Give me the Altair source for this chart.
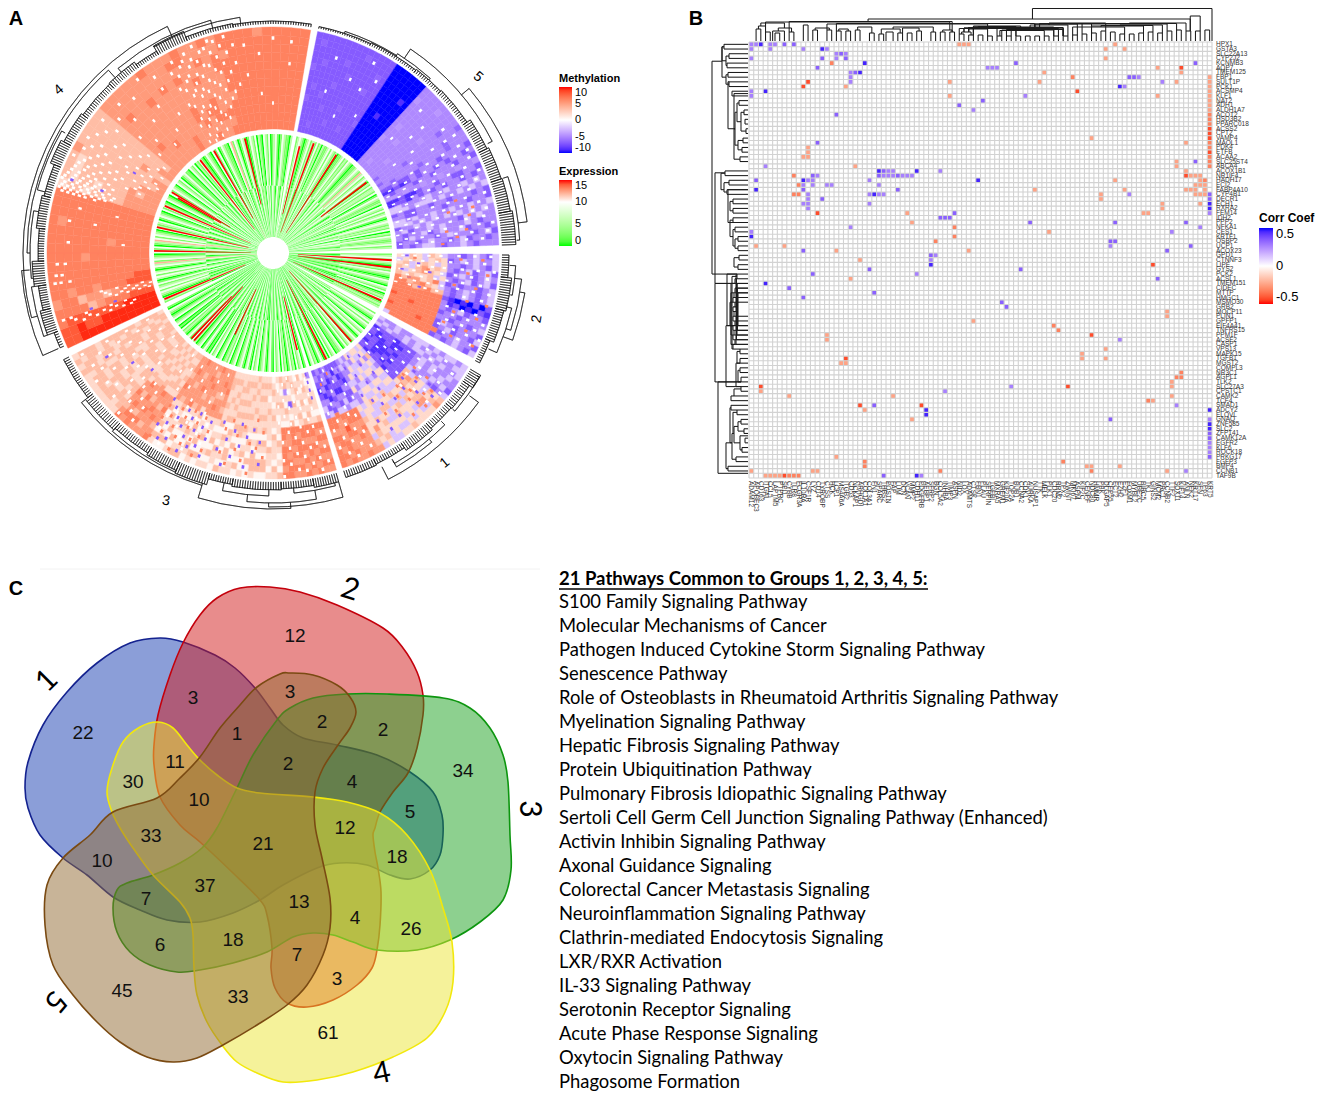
import altair as alt
import pandas as pd

alt.data_transformers.disable_max_rows()

# ---------------- values ----------------
CX, CY = 273, 253
SECTORS = {"4": (245.1, 369.6), "5": (11.4, 88.0), "2": (90.3, 117.7), "1": (120.2, 162.1), "3": (163.7, 243.0)}
METH_LEVEL = dict(R=9.5, r=8, o=6.4, p=5.2, s=3.5, t=2, w=0, l=-2.5, m=-5, n=-4.4, b=-7, c=-6.4, B=-8.8, X=-10)
METH_LEVEL_3 = {**METH_LEVEL, "l": 0.5}
EXPR_LEVEL = dict(G=0, g=2.5, h=5.5, w=9, p=12, R=15)

OUTER4 = """RRRRRRRRRRrr RRRRRRRrrRrr RRRRrrrrrrro rrrooopsoooo oooopsppsoop rrrooopoopoo rroooooooooo
oooooooooooo oooooooooooo ooooooopoooo oooooooooooo oooopooooooo oooooooooooo oooooooooopo oooooooooooo oooooooooooo oooooooooooo
ppppsssstsst ppppssstssts ppspssssssts pppsssssssts pssssssssssp ppssssssssss ssspssssssss ppssssssssss psssssssssss
pppppppppppp pppoppppoppp pppppppppppp ppoppppppppp pppppppoppp pppppppppppo ooppppppoppp pppppppppppp
pppoopppopop ppopppppppoo oppopppopppp ppoooppppopp ppoppppppppo opoppppoopp
oooopoooopoo oooooooooooo oooooooooooo oooooooooooo ooooooooooop oooooooooooo oooooooooooo oooooooooooo oooooooooooo oooooooooooo""".split()

OUTER5 = """bbbbbcbbbbcbbbbb bbbbbbbcbbbbbbcb bcbbbbbbbbbcbbbb bbbbbbcbbbbbbbbb bbbbcbbbbbbbbbbb bbbbbbbbcbbbbbbb bbcbbbbbbbbbcbbb
bbbbbbbbbbcbbbbb bbbbbcbbbbbbbbbb bbbbbbbbbbbbbbcb bbcbbbbbbbbbbbbb bbbbbbbbbcbbbbbb bbbbbbbbbbbbcbbb bbbbcbbbbbbbbbbb
XXXXXXXXXXXXXXXX XXXXXXXXXXXXXXXX XXXXXXXBXXXXXXXX XXXXXXXXXXXXXXXX XXXXXXXXXXXBXXXX XXXXXXXXXXXXXXXX
mmmmmnmmmmmmmnmm mmmmmmmmnmmmmmmm mnmmmmmmmmmmmmmm mmmmmmnmmmmmmmmm mmmmmmmmmmmmmmnm mmmnmmmmmmmmmmmm mmmmmmmmmnmmmmmm
cmmmmmmmmmmmcmmm mmmmmcmmmmmmmmmc cmmmmmmmmmmmcmmm mmcmmmmcmmmmcmmm
bbmbbmbmmmbmmmmb BBbBbmbmmbmbmmbm mbmmmbmmbmmmbmmb nnmnmmnmmnmmnmmn BBbBBbmmbmmbbmmb BbbBmbmbmbmmbmbm
llmmmnlmmlmmlmlm lllmlllmlmmlmlml bmbbmmbmmbmmmbmb mmbbmmmmbmmmbmmb llmlmmlmmlmmlmml lllmlmlmlmlmlmlm
bmmlmlmmmmblmlmm mlbmmlmlmmmlmbmm mbmmlbmlmmlbmmbm mblmmmbmlmmmbmlb bmmbmlmmbmlbmmbm bmbmllmbmmlmbmmm""".split()

OUTER2 = """tlstlstlmmbmlmbl ltstltstbmlmlmml tsltstltmmbmlmbl stlsptstmbmlbmlb sltspstlbmlmbmlm
ststtsltmbmlbmlb ospptsolbmbmmbml oospostlmbmlmbml ooospossmbmlmbml oooooooobBXBXbXb oooooooomBbXBXbB
rooooooombmlbmmb oooroooobmmbmmmm oooooooommbmmbml roooooooblmbmmmb oooooroobmlbmmbl ooooooooobmmlmmb looooooobmbmlmbl""".split()

OUTER1 = """lmmlmmlllmlmllml mlmlmlmlmlmlmmll lmlmmlmllmlmlmml
BbbbBbbbmlmlmmlm bBbbBBbbmlmlmlmm bBBbBbbbmlmmlmlb BbBBbBbblmmlmbml
bbBBBbbbslstlsts BbBBbBbbspstltsp bbBbBbbbpstssplt bBbbbBbbtpstsplt
tlslmtltltlstltt ltmtltltltslttlt tltltmtllslstlts tlmltltlstltstlt ltltlmltltslltlt tmlltltltlstlttl mltlmltlslltstll lmmtlmltttlsttst mlmmltmmltttpstl
bmbBmbmltlsttlsp bmBbmbbloopopppp bBmbBmlmooppoppo bmbbBmbloopopppp mbBbmbmloproppop bmmBbBmboppppoopo mbbmBmbloopoopop bmbBbmlmoopopooo""".split()

OUTER3 = """mlltttlsopopopop tlttstltopopopop ltstltstoopopopo stltstlsoopoopop ltstltstoopopopo tstlsttlopooopop stltbtlsooopopop tsmtlstloppopooo stltsttloopooopo
tlttstlttlstltls ltstltstlstttlst tstltsttttlsttlt
tststtstslstlssl tststtsttlstlssl ststtsttsltlssst tststtsttlstlsll tsttstststltsllt tsstststsslltlsl ttststststlslltt tstststslstlsslt tsttsttsllstltls tssttsttsltlsttl
pppoppsptltslslt ppopspppttllltlt ppppspoptltsllsl oppppsppltltslst pspoppptslstlstl ppoppsppttlstlts ppppoppstlstllts ppsppppotlstlslt opppspppstltslsl ppoppppstlstltsl pppspopptsltslst
ststststppoppspo ststtsstppspoppp tstsststoppoppsp stststsppspopop tstststsppoppsoo ststsstsopspopop tststststppoppspo
sstssttsstsstsst stsststsststsstt ststssttttsstsst ststsststststsst tsstsstststsstst sstsstststsstsst sstssttsstsstsst stsstsssssttsstt tssstsststsstsss ststsssstsstsst sstsststststssts tssstsssssstssst""".split()

# small specks of one gene in one sample: level, then "theta r r r ..."
SPECKS = {"w": """250.6 150 158 172 186 200
251.4 146 165 178 193 208
252.2 155 170 196 212 220
255 128 138 150 162
255.8 132 144 156 168
256.6 126 140 152 172
257.4 134 148 160 176
262 205 214 220
264 212 218
267 208 216
273 150 205
279 180 206
283 160 198
286.5 186 196 202 208 214 220
287.3 176 182 190 198 205 212 218 224
288.1 170 178 186 194 202 210 216 222
288.9 168 180 188 196 204 212 220
289.7 174 184 192 200 208 216 224
290.5 180 190 198 206 214 222
291.5 172 186 196 204 212 220
292.6 178 192 200 210 218
293.8 146 160 184 196 206 216
295 152 174 190 204 214
296.2 148 168 182 198 210 222
297.5 140 156 176 192 206
299 132 146 166 186 200 216
300.5 136 152 170 194 210
302 144 160 180 202 218
304 134 150 172 190 212
306 142 164 184 206
308 138 158 198 216
311 150 176 204
314 162 192 214
318 146 178 208
322 156 186 220
326 168 198 212
330.5 128 146 170 188 206
332 134 152 166 184 200 216
333.4 126 142 158 176 192 208
334.6 130 148 162 180 196 212
335.8 136 154 172 186 204 218
337 128 144 160 178 194 210
338.4 140 156 174 190 206 222
339.8 132 150 168 184 200 214
341.2 146 164 180 198 216
342.6 142 158 176 192 210 222
344 152 170 188 204 220
345.5 160 178 196 214
347 166 186 206 222
349 172 194 212
352 180 210
356 160 200
360 150 215
365 190 212
18 170 205
24 150 190
28 185 215
31 160 200
46 165 205
50 180 195
54 150 172 210
57 165 190 205 216
60 140 160 178 196 214
62 132 150 172 186 206 220
64 128 146 164 180 200 218
66 138 156 176 192 210
68 130 150 168 184 204 222
70 142 160 178 198 216
72 134 152 170 188 206
74 146 166 182 200 220
76 128 140 158 176 194 212
78 136 152 168 186 204 218
80 130 146 162 180 196 214
82 126 142 158 174 190 208 222
84 134 150 166 184 200 216
86 128 144 160 178 194 210
91 130 142 156 168 186 202 218
93 126 138 150 164 178 194 212
95 134 146 160 172 190 206 222
97 128 142 154 170 184 200 216
99 136 150 164 176 192 210
101 130 144 158 172 188 204 220
103 126 140 156 168 196 214
107 182 198 212
109 190 206 222
111 186 202 216
113 180 196 210 224
115 188 204 218
126 130 150 168
128 136 156
130 126 146 170
132 140 160
134 130 152 172
136 138 164
122 182 204
124 190 216
126 180 200
128 186 210
130 192 218
132 180 204
134 196 214
136 184 208
153 182 200 216
155 178 194 210
157 186 204 220
159 180 198 214
161 188 206
151 150 165
153 130 158
155 142 170
157 128 150
159 136 162
161 146 170
165 185 200 215
167 178 195 210 222
169 182 198 214
171 176 192 206 220
173 186 202 218
175 180 196 212
177 190 208 224
166 130 146 160
168 136 152 170
170 128 142 158
172 134 150 166
174 126 140 156 172
176 132 148 164
178 138 154 170
201 184 204
203 174 196
205 182 216
207 190 206
209 176 198
211 186 222
213 194 208
200 130 150
203 140 162
206 128 154
209 146 168
212 134 158
215 142 166
218 130 150
220 182 202 218
222 176 196 212
224 186 206 222
226 134 158 180 200
228 146 170 190 214
230 130 152 176 204
232 140 164 186 210
234 150 172 196 218
236 136 160 182 206
238 146 168 192 212
240 156 178 200
242 142 166 188 216""", "b": """253 165 190
290 182 214
300 160
165 126 134 142 150
184 190 212
186 178 200
188 186 216
190 174 196
192 182 208
194 192 218
196 176 204
200 180 198 216
202 188 208
204 176 194 212
206 184 204 220
208 178 196
210 190 214
212 182 200 218
214 176 206
226 168
232 178
238 196
130 184 204
132 192 214
134 180 200
136 188 208
140 134 156 190
142 142 172 206
144 128 160 186
146 148 178 212
148 136 168 198
91 134
94 146
97 130 158
100 138
103 150
151 126 134 142""", "o": """183 180 205
185 168 196
187 192 222
189 176 210
191 186 200
193 172 216
195 182 206
200 190 210
202 178 198 218
204 186 204
206 176 194 212
208 186 208 222
210 180 200
212 192 210
214 184 198 220
129 182 198
131 190 210
133 178 206
135 194 216
137 182 200
139 190 214
142 180 200
145 196
156 132
160 140
92 188 210 142
96 196 216 156
100 184 206 138
104 200 220
108 190 214
112 184 208
115 196 220
74 190
77 180 205
79 200
83 175 195
85 185
87 170"""}

INNER = {
    "5": ("hgwGhgghwgGhghggwhgGwhghgwGgwhghgGhwggwhGgwhgwhggGwhghwhgGgwhgwGhgwhggwGhgwhgGhwgghwGgwhgwhgGhhg",
          "ghwhgGghwghhgwghGhgghwgwhghGgghwghgwhgGgghwhgphwghwgGhgwghhgwGgwhgghGwhgwghwgGhwhghgwGhgwhgghwgh"),
    "2": ("gGghgwgGgGghggGghgGgwhgGgGhgwGgGhg", "ghwgwhgGghgwhgGgwhgGwhgwGghgwGghgh"),
    "1": ("ghgwGgwhggwGghgwgGgwhgGgwghgGhgwGgghwgGhgGwhgGgwhgGg", "gwhgGhwgwhgGwhgwhGgwhgGwhgwgGwhggGwhgwGhgGhwgGhgwhG"),
    "3": ("GghgwGghwgGgwhgGgwhGghgwGgGhgwGgwhgGhwgGgwhgGhwgGgwgGhgwGgghwGgwhgGgwhgGhwGgwhgGgwhGghgGwhgGgwGhgwGgh",
          "gGwhgwGhgwgGhgwGwhgwGgwhGgwhgGwhgwGgwhGgwhgGwhgGwghgGwhgGwhgwGgGhwgGwhgGhgwGgwhGghgwGgGwhgGwhgGghwGg"),
    "4": ("GgwhgGhgGhgwGgwhgGwhgGgwpgGhwgGgwhGghphgGhwgwGgwhgGhwgGgwhgwGghwgGwhgwGgwhgGwhgwghGhwgGgwhgwGhgGghwgGwhgpGwhgwGgghwgGwhgGhwgghgGwhgwGgwhgGhwggGhwg",
          "ghwGghwgwhgwgGhwgwhGgwhpgwhgGwhgwGghpwgwhgGwhghwGgwhgGwgwhgGwhgGwhgwhgGwhgwGghwggGwhgwGhgwhgGgwhgGwhgwGgwhggGwpgwhGgwhgGgwhgwGhgGwhgwGghwgGgwhggGh"),
}
RED_SPOKES = [(20.4, 22, 117), (32.8, 24, 117), (53, 60, 117), (93.5, 25, 119), (97, 25, 119), (113.7, 22, 118),
              (138.5, 24, 118), (153.4, 30, 119), (166, 45, 100), (205, 40, 90), (222, 45, 118), (223.6, 60, 118),
              (247, 30, 118), (271, 22, 119), (282.6, 25, 119), (293.5, 24, 118), (301, 50, 118), (321.9, 30, 118),
              (330, 40, 118), (346.2, 50, 118), (14, 40, 110), (300, 60, 110)]

COMBS = [(246,250,233),(250,256,240),(256,262,237),(262,268,241),(268,276,235),(276,284,238),(284,292,236),(292,298,240),
         (298,306,237),(306,316,235),(316,324,236),(324,330,233),(330,338,239),(338,350,233),(350,369.5,232),
         (11.5,25,231),(25,38,232),(38,46,233),(46,56,234),(56,64,238),(64,72,240),(72,80,241),(80,88,243),
         (90.5,96,236),(96,104,240),(104,112,238),(112,118,234),
         (120.5,124,241),(124,131,237),(131,138,236),(138,146,238),(146,154,235),(154,162,236),
         (164,170,238),(170,178,236),(178,190,237),(190,196,235),(196,204,241),(204,212,238),(212,222,236),(222,232,238),(232,243,235)]
TREE = [(18,32,233,231,232),(32,42,235,232,233),(34,63,246,235,241),(72,87,247,242,244),(50,83,256,246,247),
        (93,100,243,237,241),(103,114,245,239,236),(96,108,250,243,245),(99,110,255,250,245),
        (121,131,241,238,238),(135,150,243,238,238),(126,153,254,243,240),(140,150,247,243,240),
        (165,175,241,238,236),(181,192,243,237,235),(170,186,250,241,243),(197,232,243,241,238),(204,222,240,238,236),(176,197,256,250,243),(164,181,254,238,250),
        (250,262,244,240,241),(264,280,243,241,238),(285,300,244,236,240),(255,335,250,244,239),(270,318,246,243,236),(320,345,241,236,233),(330,352,238,239,232),(246,266,252,235,244)]

A_LABELS = [("4", 59, 90, -40), ("5", 478, 77, 40), ("2", 537, 319, -80), ("1", 445, 463, -40), ("3", 166, 501, 10)]

CELLS = """0:0a 1a 2c 4a 5a 7b 9b 44A 45A 46A 77A
1:0a 4a 11a 15c 16a 75A 79A
2:18a 19b 20a
3:0a 15b 18a 20b 75A
4:17B 24c 56b 94b
5:14b 50a 51a 52a 86A 91C
6:21a 22b 23c 62A 91A
7:21a 68B 80b 81b 82a 97A
8:21a 12C 42A 61A 87a 90A 97A
9:11C 20A 78c 79a 97A
10:0a 3c 69C 97A
11:0a 42A 58a 86A 97A
12:49b 97A
13:44b 97A
14:47a 97A
15:18b 97B
16:97B
17:97B
18:97C
19:97C
20:72A 97C
21:92A 14b 97B
22:12A 97B
23:12A 97C
24:11A 12A 97B
25:90A 94b 97B
26:3a 22A 90A 97B
27:27c 28b 29a 30a 35c 40a 92A
28:9B 13b 14a 27b 28a 29a 30a 31b 32a 33a 34a 92C 93A 94A 95A
29:1b 11c 12a 13a 25a 48c 77A 95A 96B
30:10B 11a 13a 16a 17a 27a 94A 95A 96A
31:1c 11b 31b 60A 79A 92A 93A 94A 96A
32:9B 10B 12a 25a 26c 27a 28a 74A 80a 94A 95A 96A 97b
33:12a 15b 74A 97b
34:11a 12a 25a 87A 95A 97c
35:12a 87A 97c
36:14C 33A 43b 83A 84A 97a
37:40b 41b 42b
38:34A 59b 77b 92b
39:21a 43B 95a
40:0a 63A 89a
41:0c 43B
42:39B 76b 77b
43:1A 7A 76a 93b
44:11b 18A 46A 88b
45:38b 39a
46:23A 38a
47:38c 85C
48:25b 57b
49:13b 35a
50:21A 86b
51:3c
52:8b
53:26b
54:11b
55:53b
56:54b
57:88A
58:88A
59:47A
60:64B
61:65B
62:16A 72C
63:16A 78a
65:75A
66:70A
67:20C 70A 75A
68:19A 20A
70:91B
71:90B 91B
72:89A
73:2C 55a 67C 89A
74:2A 41a
75:8A 30A 89A
76:84B 85A
77:23C 26b 36C 90a
78:24A 37c 97c
79:37c
80:34A 76b 97a
81:97c
82:97c
83:97b
84:97b
85:97a
86:97a
87:97a
88:18A 97b
89:24B 66B
90:24B 71A 72A 78A
91:0A 13A 14A 40B 72B 88A 92a
92:3A 4A 5A 6A 7C 8B 9B 10B 28b 35c 36a""".splitlines()
STRENGTH = dict(a=0.27, b=0.34, c=0.46, A=-0.24, B=-0.32, C=-0.43)

ROW_GENES = ["HPX1","GSTA3","SLC22A13","CYP2J2","KCNMB3","AQP7","TMEM125","FBP1","SULT1P","PCK1","ACSMP4","KLF1","NAT2","ADH1","ALDH1A7","ACOT2","HSD3B2","PPARC018","ACSS2","CPT2","VAMP4","MAOL1","PDK4","ETFB","ACAA2","SLC25ST4","ABCA4","ACOX1B1","NR1IF4","HADH17","ECI2","FABP4A10","CYP4B1","DECR1","ECH1","RXRA2","FEM14","IDH2","PPP2","NFKA1","CES1","KRTF1","OSBP2","UCP1","ACOX23","GPD1","CTNNF3","LIPE","GYS2","PCK2","ACSL1","TMEM151","CIDEC","MTTP","HMGC1","MSMO30","GRB2","MOCP11","PLIN1","GPFP1","EIF4A41","TNFRS15","PPM1F","ACSF2","CASP1","VPS13","MAPK15","TGFB1","MGST2","COMPL3","NR3C1","AGPL1","TLK2","SLC27A3","CPSTC1","CAMK2","TCF4","SMAD1","ADCY2","ELOVL","GNAQ","ZNF585","SLC2","ZFP141","CAMK12A","EGFR2","KLF6","ROCK18","PRKG17","FGFP3","BMP4","CCNB1","TAF9B"]
COL_GENES = ["ADAM12","APOBEC3","CD163","ITGAL","CCL5","LAPTM5","PTPRC","SPI1","CYBB","TLR8","FCGR3A","IL10RA","CSF1R","LYZ","CD14","TYROBP","CTSS","HCK","LCP1","MS4A6A","ITGB2","CD53","NCKAP1","ARHGDI","COL1A1","COL3A1","FN1","SPARC","THBS2","POSTN","FAP","LUM","DCN","VCAN","MMP2","CDH11","PDGFRB","AEBP1","SFRP2","BGN","COL5A2","INHBA","TIMP3","ASPN","NID2","LOX","ADAMTS","CTSK","FBN1","PLAU","SERPIN","TGFBI","MXRA5","GREM1","KIF20A","TOP2A","BUB1","CCNA2","CDK1","AURKA","NUSAP1","TTK","MELK","PLK1","CDC20","RRM2","TPX2","ZWINT","MKI67","ASPM","KIF2C","CENPF","NDC80","HMMR","PBK","DLGAP5","CEP55","ECT2","EZH2","E2F1","FOXM1","MYBL2","UBE2C","BIRC5","TK1","GINS2","MCM2","PRC1","CCNB2","TTF2","SOX11","KIF14","ANLN","NEK2","KRT17","SFN","TP63","KRT5"]
assert len(ROW_GENES) == 93 and len(COL_GENES) == 98

TOP_PAIRS = [(1,2,12),(3,4,9),(5,6,8),(4.5,7,10),(8,9,9),(11,12,16),(13,14,11),(16,17,11),(18,19,10),(20,21,10),(22,23,11),(25,26,8),(27,28,7),
             (28.5,30,9),(31,32,8),(33,34,8),(35,36,10),(38,39,9),(40,41,9),(42,43,9),(44,45,7),(46,47,6),(48,49,6),(50,51,5),(52,53,5),(54,55,5),
             (56,57,5),(58,59,5),(60,61,5),(62,63,5),(64,65,5),(66,67,5),(68,69,6),(70,71,7),(72,73,8),(74,75,10),(76,77,9),(78,79,7),(80,81,7),(82,83,8),
             (84,85,9),(86,87,8),(88,89,10),(90,91,11),(92,93,10),(94,95,10),(96,97,11)]
TOP_HIGH = [(1.5,3,15),(5.7,8.5,13),(2,7,18),(13.5,16.5,13),(18.5,20.5,12),(22.5,25.5,14),(27.5,31.5,12),(32,35.5,13),(30,38.5,14),(40.5,42.5,11),
            (44.5,46.5,9),(46,50,12),(45,52,13),(46,53,13.5),(47,56,14),(48,56,14.5),(47,57,15),(44,58,12.5),(45,60,13),(46,62,13.5),(47,64,14),(52.6,62,10.5),(53,64,11),(54,66,11.5),(55,66,12),
            (56,65,12.5),(57,66,13),(58,66,13.5),(59,67,16),(60,69,17),(61,72,17.5),(63,75,18),(68,79,14),(72,83,15),(74,85,15.5),(78,87,16),(60,88,17),
            (70,90,17.5),(80,92,18),(16,50,17),(18,60,17.5),(3,42,19),(8,42.5,19.5),(24.7,92.9,22),(92.9,95,25),(59.5,97.5,32.5)]
LEFT_BR = [(0,1,724),(2,3,729),(4,5,727),(2.5,4.5,726),(0.5,3.5,722),(6,7,728),(8,9,729),(6.5,8.5,726),(10,11,732),(12,13,739),(14,15,744),(16,17,745),
           (18,19,746),(14.5,18.5,741),(12.5,16.5,737),(20,21,743),(22,23,742),(20.5,22.5,738),(24,25,740),(14.5,21.5,735),(10.5,18,734),(18,24.5,734),(8,18,728),(0.5,7,722),(3.6,49,712),
           (27,28,725),(29,30,729),(31,32,727),(29.5,31.5,724),(33,34,733),(35,36,733),(33.5,35.5,730),(37,38,733),(39,40,735),(41,42,738),(43,44,738),(45,46,739),(47,48,738),
           (41.5,43.5,735),(45.5,47.5,734),(39.5,43,733),(37.5,41,730),(27.5,31,721),(31,38,728),(27.4,51,715),
           (49,50,737),(50,51,735),(51,52,737),(52,53,735),(53,54,734),(54,55,733),(55,56,735),(56,57,733),(57,58,734),(58,59,733),(59,60,735),(60,61,733),(61,62,734),(62,63,733),(63,64,735),(64,65,733),
           (49.5,65,732),(51,64,731),(53,62,731),(55,60,730),(49.2,64,736),(50,63,736.5),(51,62,737),(52,61,737.5),(53,60,738),(49,60,727),(65,66,740),(67,68,740),(69,70,740),(71,72,741),(73,74,741),(65.5,68,737),(69.5,72,738),(73.5,75,734),(68,73,736),(60,73,726),(51,72,715),(75,76,731),(72,91.5,718),
           (77,78,731),(78,79,737),(80,81,741),(82,83,744),(84,85,745),(86,87,742),(88,89,736),(90,91,728),(80.5,82.5,738),(83.5,86.5,740),(81.5,85,734),(78.5,83,733),(83,88.5,732),(77.5,85,730),(85,90.5,726)]

LETTERS = [("A", 16, 19), ("B", 696, 19), ("C", 16, 589)]

SET_NAMES = ["1", "2", "3", "4", "5"]
VENN_FILL = ["#173db1", "#d11919", "#1ba11f", "#ebe535", "#916931"]
VENN_EDGE = ["#14228f", "#c4000c", "#0d960f", "#f2e80c", "#7a4a12"]
VENN_X = [
 [160,183,215,235,255,270,283,303,337,377,410,433,442,443,440,430,410,390,367,340,317,283,260,233,200,167,140,113,87,63,40,28,25,28,43,67,97,130],
 [183,200,217,240,270,300,337,383,403,417,423,423,417,408,393,380,375,373,375,378,381,380,377,372,357,333,307,287,275,271,272,267,260,233,200,180,160,154,154,158,170],
 [290,313,347,387,443,470,490,503,508,510,511,503,480,450,417,377,353,333,313,293,267,233,200,177,150,130,117,113,117,127,153,180,202,217,237,253,277],
 [158,173,187,200,217,237,260,313,347,380,407,430,443,452,453,445,427,393,353,317,283,257,237,222,207,197,194,193,190,180,153,133,120,112,107,112,123,140],
 [290,313,337,350,356,350,338,323,315,315,322,330,330,323,307,287,257,223,197,173,147,120,97,73,53,45,47,63,90,113,157,180,200,220,240,257,280],
]
VENN_Y = [
 [638,642,655,668,688,708,725,738,745,755,772,792,815,835,855,870,879,875,865,863,868,885,900,913,922,920,910,897,875,858,835,808,788,762,725,692,663,643],
 [643,615,598,588,587,592,605,628,648,672,695,715,748,773,792,812,828,835,852,868,892,925,950,968,985,1000,1007,1003,988,968,948,915,900,873,842,825,797,765,745,715,675],
 [708,698,694,694,698,708,728,755,782,835,870,900,922,940,950,950,942,935,933,937,952,963,970,972,965,952,932,908,890,883,875,863,848,828,788,755,720],
 [722,728,745,760,775,788,793,797,802,813,835,870,908,942,982,1012,1038,1057,1072,1080,1082,1073,1062,1045,1022,995,968,935,918,902,875,848,828,812,792,768,742,727],
 [673,675,685,697,712,728,745,768,792,825,858,898,928,955,985,1005,1025,1045,1058,1062,1057,1042,1022,995,965,925,885,858,835,812,798,778,757,728,705,687,674],
]
VENN_NUMBERS = [(22,83,733),(12,295,636),(3,193,698),(3,290,692),(2,322,722),(2,383,730),(1,237,734),(11,175,762),(30,133,782),(10,199,800),(2,288,764),
                (4,352,782),(5,410,812),(34,463,771),(33,151,836),(21,263,844),(12,345,828),(18,397,857),(10,102,861),(37,205,886),(13,299,902),(4,355,918),
                (26,411,929),(7,146,899),(6,160,945),(18,233,940),(7,297,955),(3,337,979),(45,122,991),(33,238,997),(61,328,1033)]
VENN_NAMES = [("1", 47, 681, -45), ("2", 350, 590, 18), ("3", 529, 809, 90), ("4", 382, 1074, -12), ("5", 55, 1001, 130)]

PATHWAY_TITLE = "21 Pathways Common to Groups 1, 2, 3, 4, 5:"
PATHWAYS = ["S100 Family Signaling Pathway","Molecular Mechanisms of Cancer","Pathogen Induced Cytokine Storm Signaling Pathway","Senescence Pathway",
 "Role of Osteoblasts in Rheumatoid Arthritis Signaling Pathway","Myelination Signaling Pathway","Hepatic Fibrosis Signaling Pathway","Protein Ubiquitination Pathway",
 "Pulmonary Fibrosis Idiopathic Signaling Pathway","Sertoli Cell Germ Cell Junction Signaling Pathway (Enhanced)","Activin Inhibin Signaling Pathway","Axonal Guidance Signaling",
 "Colorectal Cancer Metastasis Signaling","Neuroinflammation Signaling Pathway","Clathrin-mediated Endocytosis Signaling","LXR/RXR Activation","IL-33 Signaling Pathway",
 "Serotonin Receptor Signaling","Acute Phase Response Signaling","Oxytocin Signaling Pathway","Phagosome Formation"]

# ---------------- scales ----------------
W, H = 1309, 1087
PXX = alt.Scale(domain=[0, 1325], range=[-8, 1317])
PXY = alt.Scale(domain=[0, 1095], range=[-8, 1087])
BX = alt.Scale(domain=[0, 98], range=[741, 1204])
BY = alt.Scale(domain=[0, 93], range=[34, 470])
THETA = alt.Scale(domain=[0, 360], range=[0, 6.283185307])
RAD = alt.Scale(type="linear", domain=[0, 300], range=[0, 300])
METH = alt.Scale(domain=[-10, 0, 10], range=["#0000ff", "#ffffff", "#ff0000"], interpolate="lab")
EXPR = alt.Scale(domain=[0, 10, 15], range=["#00ff00", "#ffffff", "#ff0000"], interpolate="lab")
CORR = alt.Scale(domain=[-0.5, 0, 0.5], range=["#ff0000", "#ffffff", "#0000ff"], interpolate="lab")
SANS = "Liberation Sans"


def xq(f="x", s=PXX):
    return alt.X(f"{f}:Q", scale=s, axis=None)


def yq(f="y", s=PXY):
    return alt.Y(f"{f}:Q", scale=s, axis=None)


def legend(title, x, y, length, thick, values, size=11, tsize=11):
    return alt.Legend(title=title, type="gradient", orient="none", legendX=x - 8, legendY=y - 8, direction="vertical", gradientLength=length,
                      gradientThickness=thick, values=values, labelOverlap=False, titleFont=SANS, titleFontSize=tsize,
                      titleFontWeight="bold", titleColor="black", labelFont=SANS, labelFontSize=size, labelColor="black",
                      titlePadding=3, labelOffset=3, gradientStrokeWidth=0, labelExpr="toString(datum.value)")


# ---------------- panel A ----------------
def sector_cells(key, rows, r0, r1, levels):
    t0, t1 = SECTORS[key]
    dt = (t1 - t0) / len(rows)
    out = []
    for i, row in enumerate(rows):
        dr = (r1 - r0) / len(row)
        for j, ch in enumerate(row):
            out.append(dict(t0=t0 + i * dt, t1=t0 + (i + 1) * dt, r0=r0 + j * dr, r1=r0 + (j + 1) * dr, v=levels[ch], x=CX, y=CY))
    return out


outer = []
for k, rows, lev in zip("45213", [OUTER4, OUTER5, OUTER2, OUTER1, OUTER3], [METH_LEVEL] * 4 + [METH_LEVEL_3]):
    outer += sector_cells(k, rows, 124, 226, lev)
speck_cells = []
for level, block in SPECKS.items():
    for line in block.splitlines():
        nums_ = [float(n) for n in line.split()]
        for r in nums_[1:]:
            speck_cells.append(dict(t0=nums_[0] - 0.36, t1=nums_[0] + 0.36, r0=r - 1.7, r1=r + 1.7, v=METH_LEVEL[level], x=CX, y=CY))
inner = []
for k, (a, b) in INNER.items():
    inner += sector_cells(k, [p + q for p, q in zip(a, b)], 16, 119, EXPR_LEVEL)
for th, r0, r1 in RED_SPOKES:
    inner.append(dict(t0=th - 0.45, t1=th + 0.45, r0=r0, r1=r1, v=15, x=CX, y=CY))


def polar(**kw):
    return dict(x=xq(), y=yq(), theta=alt.Theta("t0:Q", scale=THETA), theta2="t1:Q",
                radius=alt.Radius("r1:Q", scale=RAD), radius2="r0:Q", **kw)


arcs_seam = alt.Chart(pd.DataFrame(outer)).mark_arc(filled=False, strokeWidth=0.4).encode(
    **polar(stroke=alt.Stroke("v:Q", scale=METH, legend=None)))
arcs_outer = alt.Chart(pd.DataFrame(outer)).mark_arc().encode(
    **polar(color=alt.Color("v:Q", scale=METH, legend=legend("Methylation", 559, 73, 66, 13, [10, 5, 0, -5, -10]))))
arcs_speck = alt.Chart(pd.DataFrame(speck_cells)).mark_arc().encode(
    **polar(color=alt.Color("v:Q", scale=METH, legend=None)))
arcs_inner = alt.Chart(pd.DataFrame(inner)).mark_arc().encode(
    **polar(color=alt.Color("v:Q", scale=EXPR, legend=legend("Expression", 559, 166, 66, 13, [15, 10, 5, 0]))))

tree = []
for t0, t1, rt in COMBS:
    n = max(2, int(round((t1 - t0) / 0.62)))
    for i in range(n + 1):
        th = t0 + (t1 - t0) * i / n
        tree.append(dict(t0=th, t1=th, r0=229, r1=rt, x=CX, y=CY))
    tree.append(dict(t0=t0, t1=t1, r0=rt, r1=rt, x=CX, y=CY))
for t0, t1, r, c0, c1 in TREE:
    tree.append(dict(t0=t0, t1=t1, r0=r, r1=r, x=CX, y=CY))
    tree.append(dict(t0=t0, t1=t0, r0=c0, r1=r, x=CX, y=CY))
    tree.append(dict(t0=t1, t1=t1, r0=c1, r1=r, x=CX, y=CY))
arcs_tree = alt.Chart(pd.DataFrame(tree)).mark_arc(filled=False, stroke="#111111", strokeWidth=0.6).encode(**polar())


def rotated(items, size, font=SANS, weight="normal"):
    charts = []
    for s, x, y, a in items:
        d = pd.DataFrame([dict(t=s, x=x, y=y)])
        charts.append(alt.Chart(d).mark_text(fontSize=size, font=font, fontWeight=weight, angle=(a % 360), color="black",
                                             align="center", baseline="middle").encode(x=xq(), y=yq(), text="t:N"))
    return charts


# ---------------- panel B ----------------
cells = []
for line in CELLS:
    row, rest = line.split(":")
    for tok in rest.split():
        c = int(tok[:-1])
        cells.append(dict(r=int(row), r2=int(row) + 1, c=c, c2=c + 1, v=STRENGTH[tok[-1]]))
cells_df = pd.DataFrame(cells)
rects = alt.Chart(cells_df).mark_rect().encode(
    x=xq("c", BX), x2="c2:Q", y=yq("r", BY), y2="r2:Q",
    color=alt.Color("v:Q", scale=CORR, legend=legend("Corr Coef", 1259, 213, 76, 14, [0.5, 0, -0.5], size=13, tsize=12)),
)
vgrid = alt.Chart(pd.DataFrame({"c": list(range(99))})).mark_rule(color="#d2d2d2", strokeWidth=1.1).encode(
    x=xq("c", BX), y=alt.value(34), y2=alt.value(470))
hgrid = alt.Chart(pd.DataFrame({"r": list(range(94))})).mark_rule(color="#d2d2d2", strokeWidth=1.1).encode(
    y=yq("r", BY), x=alt.value(741), x2=alt.value(1204))

row_txt = alt.Chart(pd.DataFrame({"g": ROW_GENES, "r": [i + 0.5 for i in range(93)], "x": 1216})).mark_text(
    fontSize=6.5, font=SANS, align="left", baseline="middle", color="#333333").encode(x=xq(), y=yq("r", BY), text="g:N")
col_txt = alt.Chart(pd.DataFrame({"g": COL_GENES, "c": [i + 0.5 for i in range(98)], "y": 481})).mark_text(
    fontSize=6.5, font=SANS, align="left", baseline="middle", angle=90, color="#333333").encode(x=xq("c", BX), y=yq(), text="g:N")

top_segs, left_segs = [], []
BR = TOP_PAIRS + TOP_HIGH


def child_h(e, h):
    best = 0.0
    for a, b, hh in BR:
        if hh < h and abs((a + b) / 2 - e) < 0.8:
            best = max(best, hh)
    return best


for a, b, h in BR:
    top_segs.append(dict(a=a + 0.5, b=b + 0.5, p=h, q=h))
    top_segs.append(dict(a=a + 0.5, b=a + 0.5, p=h, q=child_h(a, h)))
    top_segs.append(dict(a=b + 0.5, b=b + 0.5, p=h, q=child_h(b, h)))
top_df = pd.DataFrame(top_segs)
top_df["p"] = 41 - top_df["p"]
top_df["q"] = 41 - top_df["q"]
top_tree = alt.Chart(top_df).mark_rule(color="#1c1c1c", strokeWidth=1.05).encode(
    x=xq("a", BX), x2="b:Q", y=yq("p"), y2="q:Q")


def child_x(e, x):
    best = 748
    for a, b, xx in LEFT_BR:
        if xx > x and abs((a + b) / 2 - e) < 0.8:
            best = min(best, xx)
    return best


for a, b, x in LEFT_BR:
    left_segs.append(dict(a=a + 0.5, b=b + 0.5, p=x, q=x))
    left_segs.append(dict(a=a + 0.5, b=a + 0.5, p=x, q=child_x(a, x)))
    left_segs.append(dict(a=b + 0.5, b=b + 0.5, p=x, q=child_x(b, x)))
left_tree = alt.Chart(pd.DataFrame(left_segs)).mark_rule(color="#1c1c1c", strokeWidth=1.05).encode(
    y=yq("a", BY), y2="b:Q", x=xq("p"), x2="q:Q")

# ---------------- panel C ----------------
venn = []
for name, fill, edge, xs, ys in zip(SET_NAMES, VENN_FILL, VENN_EDGE, VENN_X, VENN_Y):
    d = pd.DataFrame({"x": xs, "y": ys, "i": list(range(len(xs)))})
    venn.append(alt.Chart(d).mark_line(interpolate="cardinal-closed", fill=fill, fillOpacity=0.5, stroke=edge, strokeWidth=1.6).encode(
        x=xq(), y=yq(), order="i:Q"))
nums = alt.Chart(pd.DataFrame(VENN_NUMBERS, columns=["t", "x", "y"])).mark_text(
    fontSize=19, font=SANS, color="#111111", align="center", baseline="middle").encode(x=xq(), y=yq(), text="t:N")

head = alt.Chart(pd.DataFrame([dict(t=PATHWAY_TITLE, x=559, y=579)])).mark_text(
    fontSize=18.5, font="Lato", fontWeight="bold", align="left", baseline="middle", color="black").encode(x=xq(), y=yq(), text="t:N")
under = alt.Chart(pd.DataFrame([dict(x=559, x2=928, y=589)])).mark_rule(color="black", strokeWidth=1.3).encode(x=xq(), x2="x2:Q", y=yq())
faint = alt.Chart(pd.DataFrame([dict(x=40, x2=540, y=569)])).mark_rule(color="#f2f2f2", strokeWidth=1).encode(x=xq(), x2="x2:Q", y=yq())
paths = alt.Chart(pd.DataFrame({"t": PATHWAYS, "y": [602 + 23.98 * i for i in range(len(PATHWAYS))], "x": 559})).mark_text(
    fontSize=18.4, font="Lato", align="left", baseline="middle", color="black").encode(x=xq(), y=yq(), text="t:N")
letters = alt.Chart(pd.DataFrame(LETTERS, columns=["t", "x", "y"])).mark_text(
    fontSize=20, font=SANS, fontWeight="bold", align="center", baseline="middle", color="black").encode(x=xq(), y=yq(), text="t:N")

layers = [arcs_outer, arcs_seam, arcs_speck, arcs_inner, arcs_tree] + rotated(A_LABELS, 14) + [
    rects, vgrid, hgrid, row_txt, col_txt, top_tree, left_tree, faint] + venn + [nums] + rotated(VENN_NAMES, 30, font="Lato") + [
    head, under, paths, letters]

chart = alt.layer(*layers).resolve_scale(x="independent", y="independent", color="independent", stroke="independent").properties(
    width=W, height=H, autosize=alt.AutoSizeParams(type="none"), padding=0
).configure_view(stroke=None)

chart.save("out.html", embed_options={"renderer": "svg", "actions": False})
